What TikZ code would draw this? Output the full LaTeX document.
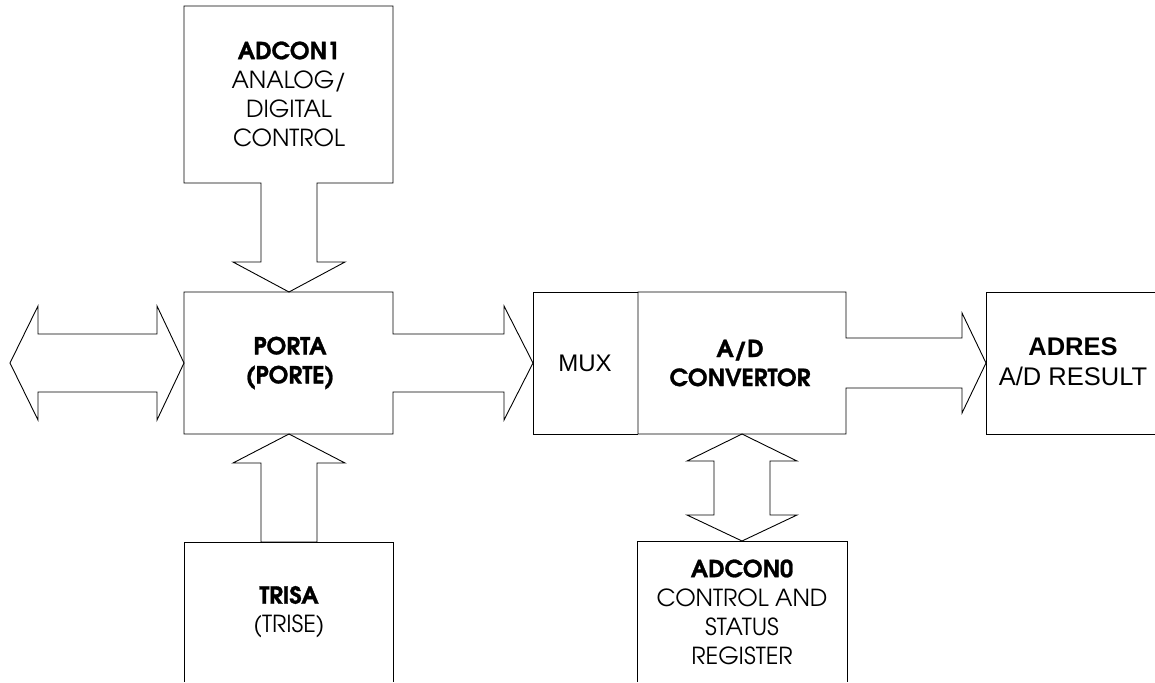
\documentclass[tikz,border=0pt]{standalone}
\usepackage{fontspec}
\newfontfamily\gothic[BoldFeatures={FakeBold=1.2}]{TeX Gyre Adventor}
\newfontfamily\arial{Liberation Sans}
\begin{document}
\begin{tikzpicture}[x=1pt,y=-1pt,
  outline/.style={line width=0.9pt, line join=miter, draw=black},
  lbl/.style={align=center, font=\gothic\fontsize{23.5}{29}\selectfont, inner sep=0pt},
  albl/.style={align=center, font=\arial\fontsize{24}{30}\selectfont, inner sep=0pt}]
\useasboundingbox (0,0) rectangle (1155,682);
% ADCON1 box with arrow down to PORTA
\draw[outline] (261,183) -- (184,183) -- (184,6) -- (393,6) -- (393,183) -- (317,183)
  -- (317,262) -- (345,262) -- (289,292) -- (233,262) -- (261,262) -- cycle;
% PORTA box with arrow to MUX
\draw[outline] (393,334) -- (393,292) -- (184,292) -- (184,434) -- (393,434) -- (393,392)
  -- (504,392) -- (504,420) -- (533,363) -- (504,306) -- (504,334) -- cycle;
% left double arrow
\draw[outline] (10,363) -- (38,306) -- (38,334) -- (157,334) -- (157,306) -- (184,363)
  -- (157,420) -- (157,392) -- (38,392) -- (38,420) -- cycle;
% TRISA arrow up and box
\draw[outline] (289,434) -- (345,463) -- (317,463) -- (317,542) -- (261,542) -- (261,463) -- (233,463) -- cycle;
\draw[outline] (184,682) -- (184,542) -- (393,542) -- (393,682);
% MUX box
\draw[outline] (638,292) -- (533,292) -- (533,434) -- (638,434);
% A/D box with arrow to ADRES
\draw[outline] (846,338) -- (846,292) -- (638,292) -- (638,434) -- (846,434) -- (846,388)
  -- (962,388) -- (962,413) -- (986,363) -- (962,313) -- (962,338) -- cycle;
% ADRES box
\draw[outline] (1155,292) -- (986,292) -- (986,434) -- (1155,434);
% ADCON0 double arrow and box
\draw[outline] (742,434) -- (797,461) -- (770,461) -- (770,515) -- (797,515) -- (742,541)
  -- (687,515) -- (714,515) -- (714,461) -- (687,461) -- cycle;
\draw[outline] (637,682) -- (637,541) -- (847,541) -- (847,682);
% texts
\node[lbl] (adcon1) at (289,94) {\textbf{ADCON1}\\ANALOG/\\DIGITAL\\CONTROL};
\node[lbl] (porta) at (290,363) {\textbf{PORTA}\\\textbf{(PORTE)}};
\node[lbl] (trisa) at (289,612) {\textbf{TRISA}\\(TRISE)};
\node[albl] (mux) at (585,363) {MUX};
\node[lbl] (ad) at (740,363) {\textbf{A/D}\\\textbf{CONVERTOR}};
\node[albl, font=\arial\fontsize{25.5}{30}\selectfont] (adres) at (1073,362) {\textbf{ADRES}\\A/D RESULT};
\node[lbl] (adcon0) at (742,612) {\textbf{ADCON0}\\CONTROL AND\\STATUS\\REGISTER};
\end{tikzpicture}
\end{document}
